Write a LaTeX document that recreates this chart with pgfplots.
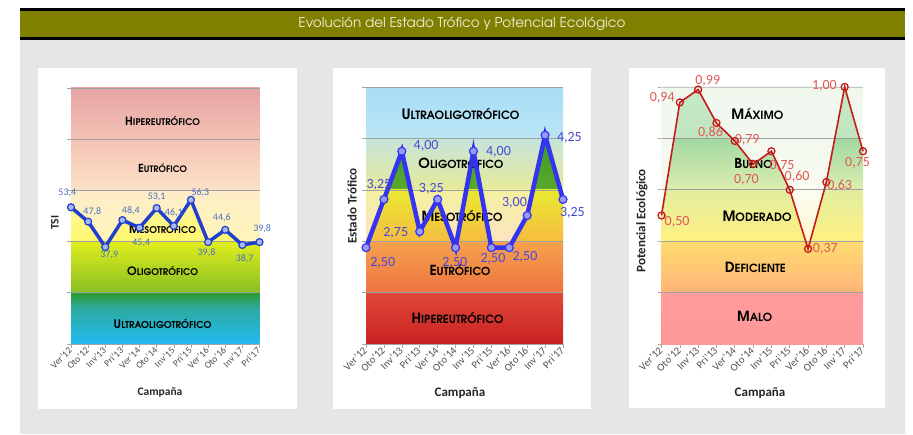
\documentclass[border=0pt]{standalone}
\usepackage{fontspec}
\usepackage{graphicx}
\usepackage{pgfplots}
\pgfplotsset{compat=1.18}
\usepackage{pgfplotstable}
\setmainfont{Carlito}
\IfFontExistsTF{TeX Gyre Adventor}{\newfontfamily\gothic{TeX Gyre Adventor}}{\newfontfamily\gothic{Poppins}}

\newcommand\SC[4]{{\gothic\bfseries\fontsize{#1}{#1}\selectfont #3\fontsize{#2}{#2}\selectfont #4}}
\newcommand\SCw[3]{\resizebox{#1pt}{!}{\SC{10}{8}{#2}{#3}}}
\newcommand\band[4]{\shade[top color=h#3, bottom color=h#4] (axis cs:0,#1) rectangle (axis cs:11,#2);}
\newcommand\pband[4]{\shade[path picture={}, top color=h#3, bottom color=h#4] (axis cs:0,#1) rectangle (axis cs:11,#2);}
\newcommand\defhex[1]{\definecolor{h#1}{HTML}{#1}}
\defhex{E6A3A5}\defhex{F3C2B4}\defhex{FCE2C6}\defhex{FEEDC8}\defhex{FFF6B8}\defhex{E2EE1E}
\defhex{86BE22}\defhex{2C9A30}\defhex{2CAAA0}\defhex{22BAF2}\defhex{FFF8A8}\defhex{FFF200}
\defhex{A8DDF5}\defhex{BAE5F5}\defhex{C6E4DA}\defhex{E6EA98}\defhex{F4F0A0}\defhex{FCE4C0}
\defhex{F6A24C}\defhex{EC7442}\defhex{E04838}\defhex{C82222}\defhex{389A28}\defhex{B8D430}
\defhex{E8EA30}\defhex{F6BC40}
\defhex{F0F8EE}\defhex{F2F8F0}\defhex{F2F8EE}\defhex{F8FBF0}\defhex{FAFDF2}\defhex{FFF6D0}
\defhex{FFDC70}\defhex{FFB478}\defhex{FF9C9C}\defhex{FF9898}\defhex{C6E8C6}\defhex{A4DAA4}
\defhex{A2D8A2}\defhex{DCEEB0}\defhex{E0EEA0}\defhex{FFF080}

\definecolor{bggray}{HTML}{E6E6E6}
\definecolor{olivebar}{HTML}{808000}
\definecolor{titletext}{HTML}{EEEEDD}
\definecolor{axisgray}{HTML}{A6A6A6}
\definecolor{gridc}{HTML}{A0A0A0}
\definecolor{ticktext}{HTML}{505050}
\definecolor{lineA}{HTML}{1F3FCF}
\definecolor{markA}{HTML}{A8B8F0}
\definecolor{labA}{HTML}{4A6FC8}
\definecolor{lineB}{HTML}{3434F0}
\definecolor{markB}{HTML}{9A9AF5}
\definecolor{labB}{HTML}{4848D8}
\definecolor{lineC}{HTML}{C41A1A}
\definecolor{labC}{HTML}{E05858}

\pgfplotstableread{
x y lbl dx dy
0 53.4 53,4 -3.7 14.7
1 47.8 47,8 4.2 9.5
2 37.9 37,9 4 -8
3 48.4 48,4 8.4 9
4 45.4 45,4 1.7 -15
5 53.1 53,1 0 11.6
6 46.1 46,1 0 13.3
7 56.3 56,3 9.4 7
8 39.8 39,8 -1.6 -11
9 44.6 44,6 -3.4 12.4
10 38.7 38,7 2.3 -14
11 39.8 39,8 2.7 13.3
}\tsidata

\pgfplotstableread{
x y lbl dx dy
0 2.50 2,50 16.7 -15.7
1 3.25 3,25 -5 14.3
2 4.00 4,00 24.3 5.7
3 2.75 2,75 -24 -1
4 3.25 3,25 -6.3 10.7
5 2.50 2,50 -0.7 -15
6 4.00 4,00 25 -1
7 2.50 2,50 1.6 -11.7
8 2.50 2,50 15.7 -9.7
9 3.00 3,00 -12.7 12.4
10 4.25 4,25 24.3 -2.3
11 3.25 3,25 9.4 -13.4
}\estdata

\pgfplotstableread{
x y lbl dx dy
0 0.50 0,50 15.6 -6.6
1 0.94 0,94 -17.6 4.4
2 0.99 0,99 9.6 9
3 0.86 0,86 -6 -9.7
4 0.79 0,79 12.4 1
5 0.70 0,70 -6.7 -15.7
6 0.75 0,75 10.7 -14.6
7 0.60 0,60 7.4 12.7
8 0.37 0,37 17.3 0
9 0.63 0,63 13.3 -3.3
10 1.00 1,00 -20.3 1
11 0.75 0,75 -5.4 -11.3
}\potdata

\pgfplotsset{
  panel/.style={
    scale only axis, clip=false, anchor=south west,
    xmin=0, xmax=11,
    axis x line*=bottom, axis y line*=left,
    axis line style={draw=axisgray, line width=0.6pt},
    tick style={draw=axisgray, line width=0.6pt},
    tick align=outside, major tick length=4pt,
    xtick={0,...,11},
    xticklabels={Ver’12,Oto’12,Inv’13,Pri’13,Ver’14,Oto’14,Inv’15,Pri’15,Ver’16,Oto’16,Inv’17,Pri’17},
    xticklabel style={rotate=45, anchor=east, text=ticktext, inner sep=1pt},
    yticklabels={},
    xlabel={Campaña},
  },
  datalabels/.style={
    point meta=explicit symbolic,
    nodes near coords,
    visualization depends on={\thisrow{dx} \as \mydx},
    visualization depends on={\thisrow{dy} \as \mydy},
    every node near coord/.append style={anchor=center, xshift=\mydx pt, yshift=\mydy pt, inner sep=0pt, #1},
  },
}

\begin{document}
\begin{tikzpicture}
\fill[white] (0,0) rectangle (913pt,434pt);
\fill[bggray] (20pt,0pt) rectangle (905pt,394pt);
\fill[black] (20pt,394pt) rectangle (905pt,426pt);
\fill[olivebar] (20pt,397pt) rectangle (905pt,423pt);
\node[text=titletext, inner sep=0pt] at (462pt,410pt) {\resizebox{327pt}{!}{\gothic\fontsize{12}{12}\selectfont Evolución del Estado Trófico y Potencial Ecológico}};
\fill[white] (38pt,25pt) rectangle (297pt,366pt);
\fill[white] (333pt,25pt) rectangle (591pt,366pt);
\fill[white] (629pt,26pt) rectangle (885pt,366pt);

% ---------------- Panel 1: TSI
\begin{axis}[panel, at={(71pt,90pt)}, width=188.5pt, height=256pt,
  ymin=0, ymax=100, ytick={0,20,40,60,80,100}, ylabel={TSI},
  xticklabel style={font=\fontsize{9.5}{9.5}\selectfont},
  every axis x label/.style={at={(axis description cs:0.472,-0.1875)}, anchor=center, font=\bfseries\fontsize{11.5}{11.5}\selectfont, text=black!85},
  every axis y label/.style={at={(axis description cs:-0.085,0.473)}, rotate=90, anchor=center, font=\bfseries\fontsize{11.5}{11.5}\selectfont, text=black!85},
]
  \band{80}{100}{E6A3A5}{F3C2B4}
  \band{60}{80}{F3C2B4}{FCE2C6}
  \band{40}{60}{FEEDC8}{FFF6B8}
  \band{20}{40}{E2EE1E}{86BE22}
  \band{14}{20}{2C9A30}{2CAAA0}
  \band{0}{14}{2CAAA0}{22BAF2}
  \addplot[draw=none, forget plot, path picture={
    \pband{40}{60}{FFF8A8}{FFF200}
    \pband{20}{40}{E2EE1E}{86BE22}
  }] table[x=x,y=y]{\tsidata} \closedcycle;
  \draw[gridc, line width=0.6pt] (axis cs:0,20) -- (axis cs:11,20);
  \draw[gridc, line width=0.6pt] (axis cs:0,40) -- (axis cs:11,40);
  \draw[gridc, line width=0.6pt] (axis cs:0,60) -- (axis cs:11,60);
  \draw[gridc, line width=0.6pt] (axis cs:0,80) -- (axis cs:11,80);
  \draw[gridc, line width=0.6pt] (axis cs:0,100) -- (axis cs:11,100);
  \node at (axis cs:5.35,87.2) {\SCw{75}{H}{IPEREUTRÓFICO}};
  \node at (axis cs:5.35,68.6) {\SCw{49}{E}{UTRÓFICO}};
  \node at (axis cs:5.35,44.8) {\SCw{67}{M}{ESOTRÓFICO}};
  \node at (axis cs:5.35,28.6) {\SCw{71}{O}{LIGOTRÓFICO}};
  \node at (axis cs:5.35,8.0) {\SCw{98}{U}{LTRAOLIGOTRÓFICO}};
  \addplot[color=lineA, line width=3.5pt, mark=*, mark size=3.5pt,
    mark options={solid, fill=markA, draw=lineA, line width=1.2pt},
    datalabels={text=labA, font=\fontsize{10}{10}\selectfont}]
    table[x=x,y=y,meta=lbl]{\tsidata};
\end{axis}

% ---------------- Panel 2: Estado Trofico
\begin{axis}[panel, at={(366pt,90pt)}, width=197pt, height=257pt,
  ymin=1, ymax=5, ytick={1,1.8,2.6,3.4,4.2,5}, ylabel={Estado Trófico},
  xticklabel style={font=\fontsize{10.5}{10.5}\selectfont},
  every axis x label/.style={at={(axis description cs:0.477,-0.19)}, anchor=center, font=\bfseries\fontsize{13}{13}\selectfont, text=black!85},
  every axis y label/.style={at={(axis description cs:-0.071,0.537)}, rotate=90, anchor=center, font=\bfseries\fontsize{13}{13}\selectfont, text=black!85},
]
  \band{4.2}{5}{A8DDF5}{BAE5F5}
  \band{3.4}{4.2}{C6E4DA}{E6EA98}
  \band{2.6}{3.4}{F4F0A0}{FCE4C0}
  \band{1.8}{2.6}{F6A24C}{EC7442}
  \band{1}{1.8}{E04838}{C82222}
  \addplot[draw=none, forget plot, path picture={
    \pband{3.4}{4.2}{389A28}{B8D430}
    \pband{2.6}{3.4}{E8EA30}{F6BC40}
    \pband{4.2}{4.6}{A8DDF5}{389A28}
  }] table[x=x,y=y]{\estdata} \closedcycle;
  \draw[gridc, line width=0.6pt] (axis cs:0,1.8) -- (axis cs:11,1.8);
  \draw[gridc, line width=0.6pt] (axis cs:0,2.6) -- (axis cs:11,2.6);
  \draw[gridc, line width=0.6pt] (axis cs:0,3.4) -- (axis cs:11,3.4);
  \draw[gridc, line width=0.6pt] (axis cs:0,4.2) -- (axis cs:11,4.2);
  \draw[gridc, line width=0.6pt] (axis cs:0,5) -- (axis cs:11,5);
  \node at (axis cs:5.28,4.58) {\SCw{118}{U}{LTRAOLIGOTRÓFICO}};
  \node at (axis cs:5.3,3.81) {\SCw{85}{O}{LIGOTRÓFICO}};
  \node at (axis cs:5.37,2.99) {\SCw{81}{M}{ESOTRÓFICO}};
  \node at (axis cs:5.25,2.15) {\SCw{61}{E}{UTRÓFICO}};
  \node at (axis cs:5.11,1.41) {\SCw{92}{H}{IPEREUTRÓFICO}};
  \addplot[color=lineB, line width=4.5pt, mark=*, mark size=4pt,
    mark options={solid, fill=markB, draw=lineB, line width=1.2pt},
    datalabels={text=labB, font=\fontsize{14}{14}\selectfont}]
    table[x=x,y=y,meta=lbl]{\estdata};
\end{axis}

% ---------------- Panel 3: Potencial Ecologico
\begin{axis}[panel, at={(661.5pt,90pt)}, width=201.5pt, height=257pt,
  ymin=0, ymax=1, ytick={0,0.2,0.4,0.6,0.8,1}, ylabel={Potencial Ecológico},
  xticklabel style={font=\fontsize{10.5}{10.5}\selectfont},
  every axis x label/.style={at={(axis description cs:0.489,-0.19)}, anchor=center, font=\bfseries\fontsize{13}{13}\selectfont, text=black!85},
  every axis y label/.style={at={(axis description cs:-0.097,0.479)}, rotate=90, anchor=center, font=\bfseries\fontsize{13}{13}\selectfont, text=black!85},
]
  \band{0.8}{1}{F0F8EE}{F2F8F0}
  \band{0.6}{0.8}{F2F8EE}{F8FBF0}
  \band{0.4}{0.6}{FAFDF2}{FFF6D0}
  \band{0.2}{0.4}{FFDC70}{FFB478}
  \band{0}{0.2}{FF9C9C}{FF9898}
  \addplot[draw=none, forget plot, path picture={
    \pband{0.8}{1}{C6E8C6}{A4DAA4}
    \pband{0.6}{0.8}{A2D8A2}{DCEEB0}
    \pband{0.4}{0.6}{E0EEA0}{FFF080}
  }] table[x=x,y=y]{\potdata} \closedcycle;
  \draw[gridc, line width=0.6pt] (axis cs:0,0.2) -- (axis cs:11,0.2);
  \draw[gridc, line width=0.6pt] (axis cs:0,0.4) -- (axis cs:11,0.4);
  \draw[gridc, line width=0.6pt] (axis cs:0,0.6) -- (axis cs:11,0.6);
  \draw[gridc, line width=0.6pt] (axis cs:0,0.8) -- (axis cs:11,0.8);
  \draw[gridc!60, line width=0.6pt] (axis cs:0,1) -- (axis cs:11,1);
  \node at (axis cs:5.24,0.894) {\SCw{52}{M}{ÁXIMO}};
  \node at (axis cs:5.02,0.701) {\SCw{38}{B}{UENO}};
  \node at (axis cs:5.22,0.496) {\SCw{69}{M}{ODERADO}};
  \node at (axis cs:5.12,0.30) {\SCw{61}{D}{EFICIENTE}};
  \node at (axis cs:5.09,0.107) {\SCw{35}{M}{ALO}};
  \addplot[color=lineC, line width=1.6pt, mark=o, mark size=3.5pt,
    mark options={solid, draw=lineC, line width=1.3pt},
    datalabels={text=labC, font=\fontsize{14}{14}\selectfont}]
    table[x=x,y=y,meta=lbl]{\potdata};
\end{axis}
\pgfresetboundingbox
\path[use as bounding box] (0,0) rectangle (913pt,434pt);
\end{tikzpicture}
\end{document}
